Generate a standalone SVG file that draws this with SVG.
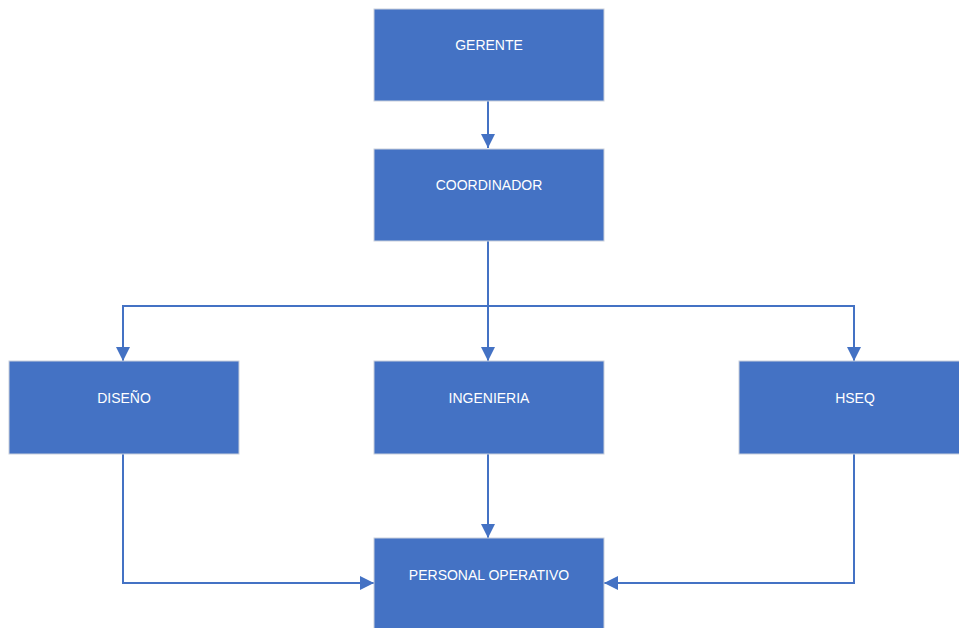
<svg xmlns="http://www.w3.org/2000/svg" width="959" height="628" viewBox="0 0 959 628">
<style>
.box{fill:#4472C4;stroke:#C9D0DC;stroke-width:1}
.lbl{font-family:"Liberation Sans",Arial,sans-serif;font-size:14px;fill:#FFFFFF;text-anchor:middle}
.con{fill:none;stroke:#4472C4;stroke-width:2}
</style>
<defs>
<marker id="ah" markerWidth="7" markerHeight="7" refX="7" refY="3.5" orient="auto" markerUnits="strokeWidth">
<path d="M0,0 L7,3.5 L0,7 Z" fill="#4472C4"/>
</marker>
</defs>
<rect width="959" height="628" fill="#FFFFFF"/>
<g id="connectors">
<path class="con" d="M488,101 V148" marker-end="url(#ah)"/>
<path class="con" d="M488,241 V361" marker-end="url(#ah)"/>
<path class="con" d="M488,306 H123 V361" marker-end="url(#ah)"/>
<path class="con" d="M488,306 H854 V361" marker-end="url(#ah)"/>
<path class="con" d="M488,454 V538" marker-end="url(#ah)"/>
<path class="con" d="M123,454 V583 H374" marker-end="url(#ah)"/>
<path class="con" d="M854,454 V583 H604" marker-end="url(#ah)"/>
</g>
<g id="gerente"><rect class="box" x="374" y="9" width="230" height="92"/><text class="lbl" x="489" y="50">GERENTE</text></g>
<g id="coordinador"><rect class="box" x="374" y="149" width="230" height="92"/><text class="lbl" x="489" y="190">COORDINADOR</text></g>
<g id="diseno"><rect class="box" x="9" y="361" width="230" height="93"/><text class="lbl" x="124" y="403">DISEÑO</text></g>
<g id="ingenieria"><rect class="box" x="374" y="361" width="230" height="93"/><text class="lbl" x="489" y="403">INGENIERIA</text></g>
<g id="hseq"><rect class="box" x="739" y="361" width="230" height="93"/><text class="lbl" x="855" y="403">HSEQ</text></g>
<g id="personal"><rect class="box" x="374" y="538" width="230" height="100"/><text class="lbl" x="489" y="580">PERSONAL OPERATIVO</text></g>
</svg>
